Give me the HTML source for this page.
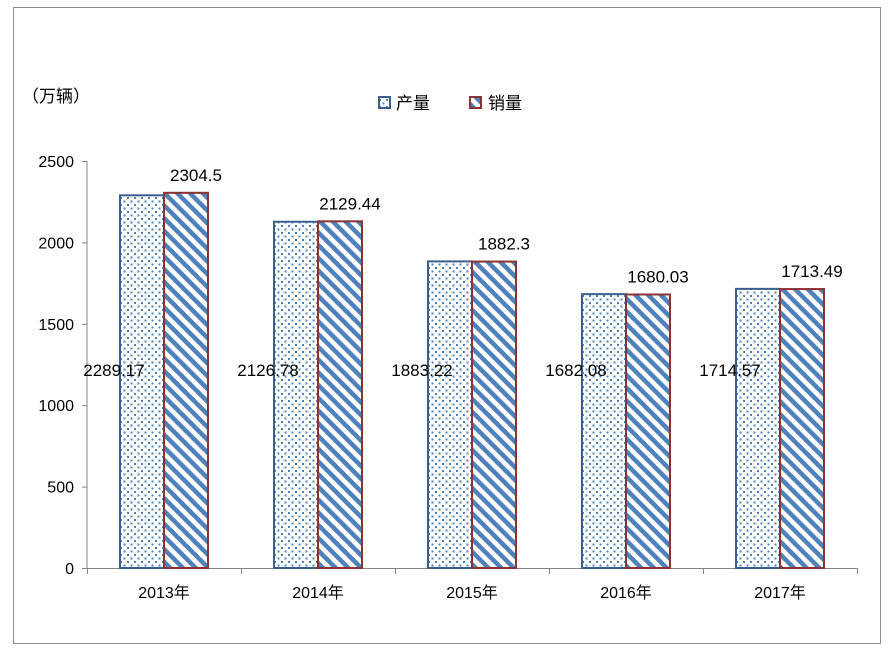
<!DOCTYPE html>
<html><head><meta charset="utf-8"><style>
body{margin:0;background:#fff;}
svg text{font-family:"Liberation Sans","Noto Sans CJK SC",sans-serif;fill:#000;}
</style></head><body>
<svg width="893" height="660" xmlns="http://www.w3.org/2000/svg">
<defs>
<pattern id="dots" width="7" height="7" patternUnits="userSpaceOnUse"><rect width="7" height="7" fill="#fff"/><rect x="1" y="1" width="2" height="2" fill="#4f81bd"/><rect x="4.5" y="4.5" width="2" height="2" fill="#4f81bd"/></pattern>
<pattern id="diag" width="9" height="9" patternUnits="userSpaceOnUse" patternTransform="rotate(45)"><rect width="9" height="9" fill="#fff"/><rect width="9" height="4.5" fill="#4f81bd"/></pattern>
</defs>
<rect x="13.5" y="7.5" width="867" height="636" fill="#fff" stroke="#8c8c8c"/>
<text x="22" y="102" font-size="17">（万辆）</text>
<g>
<g><rect x="379" y="97" width="11" height="11" fill="url(#dots)" stroke="#3a5f8f" stroke-width="2"/><text x="396" y="109" font-size="17">产量</text></g>
<g><rect x="470" y="97" width="11" height="11" fill="url(#diag)" stroke="#8b3333" stroke-width="2"/><text x="488" y="109" font-size="17">销量</text></g>
</g>
<g id="axes"></g>
<g id="bars"></g>
</svg>
<script>
const categories=["2013年","2014年","2015年","2016年","2017年"];
const production=[2289.17,2126.78,1883.22,1682.08,1714.57];
const sales=[2304.5,2129.44,1882.3,1680.03,1713.49];
const yTicks=[0,500,1000,1500,2000,2500];
const NS="http://www.w3.org/2000/svg";
const x0=87,x1=857,y0=568,y1=161,yMax=2500;
const y=v=>y0-(v/yMax)*(y0-y1);
const cw=(x1-x0)/categories.length;
const cx=i=>x0+cw*(i+0.5);
function mk(tag,attrs,parent){const e=document.createElementNS(NS,tag);for(const k in attrs)e.setAttribute(k,attrs[k]);parent.appendChild(e);return e;}
const ax=document.getElementById('axes'),bg=document.getElementById('bars');
const yl=mk('line',{x1:x0,y1:y1,x2:x0,y2:y0,stroke:'#868686'},ax);


const xl=mk('line',{x1:x0,y1:y0+0.5,x2:x1,y2:y0+0.5,stroke:'#868686'},ax);


yTicks.forEach(t=>{
 mk('line',{x1:x0-5,x2:x0,y1:y(t)+0.5,y2:y(t)+0.5,stroke:'#868686'},ax);
 const tx=mk('text',{x:x0-13,y:y(t)+6,'font-size':16,'text-anchor':'end'},ax);
 tx.textContent=t;
 
 
});
for(let i=0;i<=categories.length;i++){mk('line',{x1:x0+cw*i+0.5,x2:x0+cw*i+0.5,y1:y0,y2:y0+6,stroke:'#868686'},ax);}
categories.forEach((c,i)=>{
 const tx=mk('text',{x:cx(i),y:y0+30,'font-size':16,'text-anchor':'middle'},ax);
 tx.textContent=c;
 
 
 const bw=44,c0=cx(i);
 const b1=mk('rect',{x:c0-bw,y:y(production[i]),width:bw,height:y0-y(production[i]),fill:'url(#dots)',stroke:'#3a5f8f','stroke-width':2},bg);
 
 
 const b2=mk('rect',{x:c0,y:y(sales[i]),width:bw,height:y0-y(sales[i]),fill:'url(#diag)',stroke:'#8b3333','stroke-width':2},bg);
 
 
 const l1=mk('text',{x:c0-bw-6,y:376,'font-size':17,'text-anchor':'middle'},bg);
 l1.textContent=production[i];
 
 
 const l2=mk('text',{x:c0+bw/2+10,y:y(sales[i])-12,'font-size':17,'text-anchor':'middle'},bg);
 l2.textContent=sales[i];
 
 
});
</script>
</body></html>
